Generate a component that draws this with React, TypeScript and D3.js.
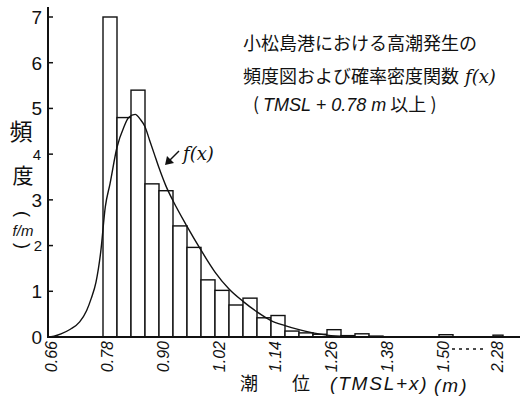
import React from 'react';
import * as d3 from 'd3';

// histogram: bin start (m), bin width 0.03 m, frequency density (f/m)
const binStarts = [0.78, 0.81, 0.84, 0.87, 0.9, 0.93, 0.96, 0.99, 1.02, 1.05, 1.08, 1.11, 1.14, 1.17, 1.2, 1.23, 1.26, 1.29, 1.32, 1.35, 1.5, 2.28];
const freq = [7.0, 4.8, 5.4, 3.35, 3.2, 2.43, 1.96, 1.25, 1.02, 0.7, 0.85, 0.42, 0.47, 0.13, 0.09, 0.06, 0.16, 0.03, 0.07, 0.02, 0.05, 0.04];
const binWidth = 0.03;

// probability density curve f(x)
const curveX = [0.66, 0.675, 0.69, 0.71, 0.73, 0.745, 0.755, 0.765, 0.775, 0.785, 0.795, 0.81, 0.825, 0.835, 0.849, 0.86, 0.87, 0.88, 0.89, 0.9, 0.915, 0.93, 0.96, 0.99, 1.02, 1.05, 1.08, 1.11, 1.14, 1.17, 1.2, 1.23, 1.26, 1.3, 1.35];
const curveF = [0, 0.02, 0.07, 0.17, 0.33, 0.58, 0.85, 1.2, 1.85, 2.85, 3.35, 4.15, 4.6, 4.8, 4.87, 4.76, 4.6, 4.3, 4.0, 3.7, 3.3, 2.98, 2.42, 1.9, 1.42, 1.05, 0.78, 0.55, 0.36, 0.25, 0.16, 0.09, 0.04, 0.01, 0];

const xTicks = [0.66, 0.78, 0.9, 1.02, 1.14, 1.26, 1.38, 1.5, 2.28];
const xTickLabels = ['0.66', '0.78', '0.90', '1.02', '1.14', '1.26', '1.38', '1.50', '2.28'];
const yTicks = [0, 1, 2, 3, 4, 5, 6, 7];

const W = 520;
const H = 398;

export default function App() {
  // broken axis: 1.56 .. 2.25 squeezed
  const x = d3.scaleLinear().domain([0.66, 1.56, 2.25, 2.31]).range([47, 467, 483, 503]);
  const y = d3.scaleLinear().domain([0, 7]).range([337, 17]);

  const line = d3.line<number>()
    .x((d, i) => x(curveX[i]))
    .y(d => y(d))
    .curve(d3.curveMonotoneX);

  const jp = '"Noto Sans CJK JP", sans-serif';
  const num = '"Liberation Sans", sans-serif';

  return (
    <svg width={W} height={H} style={{ position: 'absolute', left: 0, top: 0, background: '#fff' }}>
      {/* bars */}
      {binStarts.map((b, i) => (
        <rect key={i} x={x(b)} y={y(freq[i])} width={x(b + binWidth) - x(b)} height={y(0) - y(freq[i])}
          fill="#fff" stroke="#111" strokeWidth={1.4} />
      ))}

      {/* density curve */}
      <path d={line(curveF) || ''} fill="none" stroke="#111" strokeWidth={1.4} />

      {/* axes */}
      <line x1={x(0.66) + 1} x2={x(0.66) + 1} y1={7} y2={y(0)} stroke="#111" strokeWidth={2} />
      <line x1={x(0.66)} x2={W} y1={y(0)} y2={y(0)} stroke="#111" strokeWidth={2} />
      {yTicks.map(t => (
        <g key={t}>
          <line x1={x(0.66) + 1} x2={x(0.66) + 6} y1={y(t)} y2={y(t)} stroke="#111" strokeWidth={1.5} />
          <text x={t === 4 ? 41 : 42} y={y(t)} dy="0.36em" textAnchor="end" fontFamily={num}
            fontSize={t === 4 || t === 2 ? 15 : 19} fill="#111">{t}</text>
        </g>
      ))}

      {/* x tick labels */}
      {xTicks.map((t, i) => (
        <text key={t} transform={`translate(${x(t) + 4},${y(0) + 4}) rotate(-90)`} dy="0.36em" textAnchor="end"
          fontFamily={num} fontStyle="italic" fontSize={16} fill="#111">{xTickLabels[i]}</text>
      ))}
      <line x1={x(1.5) + 13} x2={x(2.28) - 7} y1={349} y2={349} stroke="#111" strokeWidth={1.3} strokeDasharray="3,4" />

      {/* y axis label */}
      <text x={21} y={140} fontFamily={jp} fontSize={23} textAnchor="middle" fill="#111">頻</text>
      <text x={23} y={183} fontFamily={jp} fontSize={21} textAnchor="middle" fill="#111">度</text>
      <text transform="translate(23,214) rotate(90)" dy="0.35em" fontFamily={num} fontSize={18} textAnchor="middle" fill="#111">(</text>
      <text x={23} y={236} fontFamily={num} fontStyle="italic" fontSize={15} textAnchor="middle" fill="#111">f/m</text>
      <text transform="translate(23,246) rotate(90)" dy="0.35em" fontFamily={num} fontSize={18} textAnchor="middle" fill="#111">)</text>

      {/* x axis label */}
      <text x={240} y={390} fontFamily={jp} fontSize={18} fill="#111">潮</text>
      <text x={292} y={390} fontFamily={jp} fontSize={18} fill="#111">位</text>
      <text x={330} y={390} fontFamily={num} fontStyle="italic" fontSize={19} letterSpacing={1.8} fill="#111">(TMSL+x)</text>
      <text x={434} y={392} fontFamily={num} fontStyle="italic" fontSize={19} letterSpacing={2} fill="#111">(m)</text>

      {/* f(x) annotation */}
      <line x1={179} x2={169} y1={151} y2={161} stroke="#111" strokeWidth={1.4} />
      <path d="M165,165 L167,156 L174,163 Z" fill="#111" />
      <text x={183} y={160} fontFamily='"DejaVu Serif", serif' fontStyle="italic" fontSize={18} fill="#111">f(x)</text>

      {/* title */}
      <text x={243} y={50} fontFamily={jp} fontSize={18} fill="#111">小松島港における高潮発生の</text>
      <text x={243} y={83} fontFamily={jp} fontSize={18} fill="#111">
        頻度図および確率密度関数<tspan fontFamily='"DejaVu Serif", serif' fontStyle="italic" dx={6}>f(x)</tspan>
      </text>
      <text x={253} y={111} fontFamily={jp} fontSize={18} fill="#111">
        (<tspan fontFamily={num} fontStyle="italic" dx={4}>TMSL + 0.78 m</tspan> 以上 )
      </text>
    </svg>
  );
}
